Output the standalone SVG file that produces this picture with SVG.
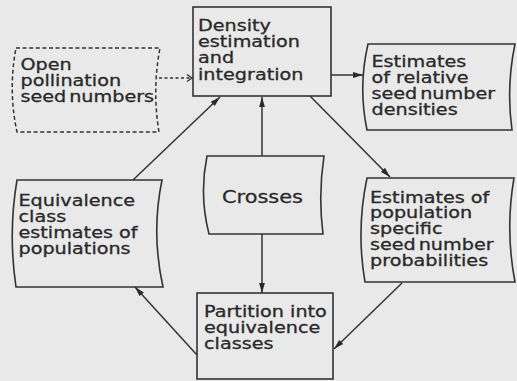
<svg xmlns="http://www.w3.org/2000/svg" width="517" height="381" viewBox="0 0 517 381">
<style>
.box{fill:none;stroke:#333;stroke-width:1.6}
.dbox{fill:none;stroke:#333;stroke-width:1.5;stroke-dasharray:4 2.6}
.t{font-family:"DejaVu Sans",sans-serif;font-size:15px;fill:#2a2a2a;stroke:#2a2a2a;stroke-width:0.3}
.big{font-size:18px}
.c{fill:none;stroke:#333;stroke-width:1.5}
.dc{fill:none;stroke:#333;stroke-width:1.4;stroke-dasharray:3 2.5}
.tight{word-spacing:-2.5px}
</style>
<defs>
<marker id="ah" markerUnits="userSpaceOnUse" markerWidth="11" markerHeight="7" refX="10" refY="3.5" orient="auto">
<path d="M0,0.6 L10,3.5 L0,6.4 Z" fill="#2a2a2a"/>
</marker>
<marker id="oh" markerUnits="userSpaceOnUse" markerWidth="8" markerHeight="9" refX="6" refY="4.5" orient="auto">
<polyline points="1,1 6,4.5 1,8" fill="none" stroke="#333" stroke-width="1.3"/>
</marker>
</defs>
<rect x="0" y="0" width="517" height="381" fill="#e9e9e9"/>

<g id="connectors">
<line class="dc" x1="159" y1="78" x2="192" y2="78" marker-end="url(#oh)"/>
<line class="c" x1="262" y1="156" x2="262" y2="97" marker-end="url(#ah)"/>
<line class="c" x1="262" y1="234" x2="262" y2="293" marker-end="url(#ah)"/>
<line class="c" x1="331" y1="75" x2="363" y2="75" marker-end="url(#ah)"/>
<line class="c" x1="310" y1="96" x2="390" y2="177" marker-end="url(#ah)"/>
<line class="c" x1="402" y1="283" x2="334" y2="349" marker-end="url(#ah)"/>
<line class="c" x1="197" y1="355" x2="135" y2="287" marker-end="url(#ah)"/>
<line class="c" x1="133" y1="180" x2="220" y2="97" marker-end="url(#ah)"/>
</g>

<g id="open-pollination">
<path class="dbox" d="M16,48 H160 Q152,90 159,132 H17 Q8,90 16,48 Z"/>
<text class="t" transform="translate(20.5,69.5) scale(1.28,1)"><tspan x="0">Open</tspan><tspan x="0" dy="16.3">pollination</tspan><tspan x="0" dy="16.3" class="tight">seed numbers</tspan></text>
</g>

<g id="density">
<rect class="box" x="193" y="7" width="138" height="89"/>
<text class="t" transform="translate(198,30.7) scale(1.28,1)"><tspan x="0">Density</tspan><tspan x="0" dy="16.3">estimation</tspan><tspan x="0" dy="16.3">and</tspan><tspan x="0" dy="16.3">integration</tspan></text>
</g>

<g id="relative-densities">
<path class="box" d="M368,44 H515 Q506,87 512,130 H367 Q358,87 368,44 Z"/>
<text class="t" transform="translate(371.5,67) scale(1.28,1)"><tspan x="0">Estimates</tspan><tspan x="0" dy="16">of relative</tspan><tspan x="0" dy="16" class="tight">seed number</tspan><tspan x="0" dy="16">densities</tspan></text>
</g>

<g id="crosses">
<path class="box" d="M207,156 H324 Q318,195 323,234 H209 Q199,195 207,156 Z"/>
<text class="t big" text-anchor="middle" transform="translate(262.5,203) scale(1.16,1)">Crosses</text>
</g>

<g id="equivalence-estimates">
<path class="box" d="M17,180 H162 Q151,233 163,287 H16 Q8,233 17,180 Z"/>
<text class="t" transform="translate(18.5,205.7) scale(1.28,1)"><tspan x="0">Equivalence</tspan><tspan x="0" dy="16">class</tspan><tspan x="0" dy="16">estimates of</tspan><tspan x="0" dy="16">populations</tspan></text>
</g>

<g id="population-probabilities">
<path class="box" d="M367,178 H514 Q505,230 515,282 H365 Q356,230 367,178 Z"/>
<text class="t" transform="translate(370,202.5) scale(1.28,1)"><tspan x="0">Estimates of</tspan><tspan x="0" dy="16">population</tspan><tspan x="0" dy="16">specific</tspan><tspan x="0" dy="16" class="tight">seed number</tspan><tspan x="0" dy="16">probabilities</tspan></text>
</g>

<g id="partition">
<rect class="box" x="197" y="293" width="136" height="86"/>
<text class="t" transform="translate(204,317) scale(1.28,1)"><tspan x="0">Partition into</tspan><tspan x="0" dy="16">equivalence</tspan><tspan x="0" dy="16">classes</tspan></text>
</g>
</svg>
